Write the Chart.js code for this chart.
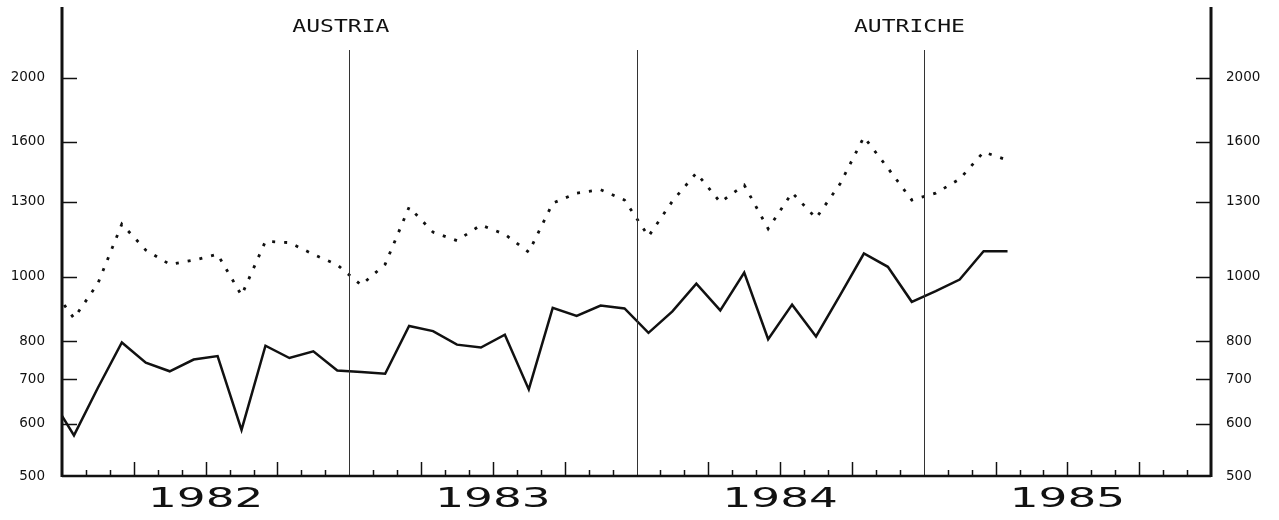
<!DOCTYPE html>
<html>
<head>
<meta charset="utf-8">
<script src="https://cdn.jsdelivr.net/npm/chart.js@4"></script>
<style>
  html, body { margin: 0; padding: 0; background: #fff; }
  #wrap { width: 1279px; height: 520px; position: relative; }
</style>
</head>
<body>
<div id="wrap"><canvas id="chart"></canvas></div>
<script>
// ----- Data
const months = [
    '1981-12',
    '1982-01', '1982-02', '1982-03', '1982-04', '1982-05', '1982-06',
    '1982-07', '1982-08', '1982-09', '1982-10', '1982-11', '1982-12',
    '1983-01', '1983-02', '1983-03', '1983-04', '1983-05', '1983-06',
    '1983-07', '1983-08', '1983-09', '1983-10', '1983-11', '1983-12',
    '1984-01', '1984-02', '1984-03', '1984-04', '1984-05', '1984-06',
    '1984-07', '1984-08', '1984-09', '1984-10', '1984-11', '1984-12',
    '1985-01', '1985-02', '1985-03', '1985-04'
];
const years = ['1982', '1983', '1984', '1985'];
const yTicks = [500, 600, 700, 800, 1000, 1300, 1600, 2000];
const solidSeries = [
    660,
    576, 680, 796, 742, 720, 750, 759, 587, 787, 754, 772, 722,
    718, 714, 843, 828, 790, 782, 818, 676, 898, 873, 905, 896,
    823, 887, 977, 890, 1015, 805, 908, 813, 938, 1085, 1036, 917,
    952, 991, 1094, 1094
];
const dottedSeries = [
    970,
    866, 978, 1202, 1098, 1045, 1060, 1082, 938, 1132, 1127, 1082, 1043,
    972, 1045, 1275, 1169, 1135, 1198, 1160, 1090, 1293, 1339, 1355, 1307,
    1152, 1302, 1436, 1297, 1377, 1183, 1341, 1227, 1382, 1628, 1461, 1307,
    1339, 1406, 1545, 1502
];
const titles = ['AUSTRIA', 'AUTRICHE'];

// month index, 0 = Jan 1982
function monthIndex(s) {
    const [y, m] = s.split('-').map(Number);
    return (y - 1982) * 12 + (m - 1);
}
const toPoints = vals => months.map((m, i) => ({ x: monthIndex(m), y: vals[i] }));

const INK = '#111';

// ----- Axes, tick marks, year labels, titles
const framePlugin = {
    id: 'frame',
    afterDraw(chart) {
        const { ctx, chartArea: a, scales } = chart;
        const xs = scales.x, ys = scales.y;
        ctx.save();
        ctx.strokeStyle = INK;
        ctx.lineCap = 'butt';

        // monthly ticks, quarter ticks taller, year dividers
        for (let k = 0; k <= 48; k++) {
            const px = Math.round(xs.getPixelForValue(k - 0.5)) + 0.5;
            if (k % 12 === 0) {
                if (k === 0 || k === 48) continue;
                ctx.strokeStyle = '#333';
                ctx.lineWidth = 1;
                ctx.beginPath(); ctx.moveTo(px, 50); ctx.lineTo(px, a.bottom); ctx.stroke();
                ctx.strokeStyle = INK;
                continue;
            }
            const len = k % 3 === 0 ? 14 : 6;
            ctx.lineWidth = 1.5;
            ctx.beginPath(); ctx.moveTo(px, a.bottom); ctx.lineTo(px, a.bottom - len); ctx.stroke();
        }

        // value ticks on both sides
        ctx.lineWidth = 1.5;
        yTicks.forEach(v => {
            if (v === 500) return;
            const py = Math.round(ys.getPixelForValue(v)) + 0.5;
            ctx.beginPath(); ctx.moveTo(a.left, py); ctx.lineTo(a.left + 15, py); ctx.stroke();
            ctx.beginPath(); ctx.moveTo(a.right - 15, py); ctx.lineTo(a.right, py); ctx.stroke();
        });

        // frame
        ctx.lineWidth = 3;
        ctx.beginPath(); ctx.moveTo(a.left, a.top); ctx.lineTo(a.left, a.bottom + 1); ctx.stroke();
        ctx.beginPath(); ctx.moveTo(a.right, a.top); ctx.lineTo(a.right, a.bottom + 1); ctx.stroke();
        ctx.lineWidth = 2.5;
        ctx.beginPath(); ctx.moveTo(a.left, a.bottom); ctx.lineTo(a.right, a.bottom); ctx.stroke();

        // year labels (wide plotter lettering)
        ctx.fillStyle = INK;
        ctx.textAlign = 'center';
        ctx.textBaseline = 'middle';
        ctx.font = '27px "DejaVu Sans"';
        years.forEach((yr, i) => {
            const cx = xs.getPixelForValue(i * 12 + 5.5);
            ctx.save();
            ctx.translate(cx, a.bottom + 24);
            ctx.scale(1.68, 1);
            ctx.fillText(yr, 0, 0);
            ctx.restore();
        });

        // titles
        ctx.font = '18px "DejaVu Sans Mono"';
        [11.15, 34.9].forEach((mx, i) => {
            const cx = xs.getPixelForValue(mx);
            ctx.save();
            ctx.translate(cx, 27);
            ctx.scale(1.28, 1);
            ctx.fillText(titles[i], 0, 0);
            ctx.restore();
        });
        ctx.restore();
    }
};

const yAxis = (position, width, padding) => ({
    type: 'logarithmic',
    position,
    min: 500,
    max: 2560,
    afterBuildTicks: s => { s.ticks = yTicks.map(v => ({ value: v })); },
    afterFit: s => {
        s.width = width;
        s.paddingTop = 0;
        s.paddingBottom = 0;
    },
    grid: { display: false, drawTicks: false },
    border: { display: false },
    ticks: {
        padding,
        color: INK,
        font: { family: 'DejaVu Sans', size: 13.5 },
        callback: v => String(v)
    }
});

new Chart(document.getElementById('chart'), {
    type: 'line',
    data: {
        datasets: [
            {
                label: 'solid',
                data: toPoints(solidSeries),
                borderColor: INK,
                borderWidth: 2.5,
                pointRadius: 0,
                tension: 0,
                fill: false
            },
            {
                label: 'dotted',
                data: toPoints(dottedSeries),
                borderColor: INK,
                borderWidth: 2.8,
                borderDash: [3, 9],
                pointRadius: 0,
                tension: 0,
                fill: false
            }
        ]
    },
    options: {
        responsive: true,
        maintainAspectRatio: false,
        animation: false,
        layout: { padding: { top: 7, left: 0, right: 0, bottom: 0 } },
        plugins: { legend: { display: false }, tooltip: { enabled: false } },
        scales: {
            x: {
                type: 'linear',
                min: -0.5,
                max: 47.5,
                afterFit: s => {
                    s.height = 44;
                    s.paddingLeft = 0;
                    s.paddingRight = 0;
                },
                grid: { display: false, drawTicks: false },
                border: { display: false },
                ticks: { display: false }
            },
            y: yAxis('left', 62, 17),
            y2: yAxis('right', 68, 15)
        }
    },
    plugins: [framePlugin]
});
</script>
</body>
</html>
